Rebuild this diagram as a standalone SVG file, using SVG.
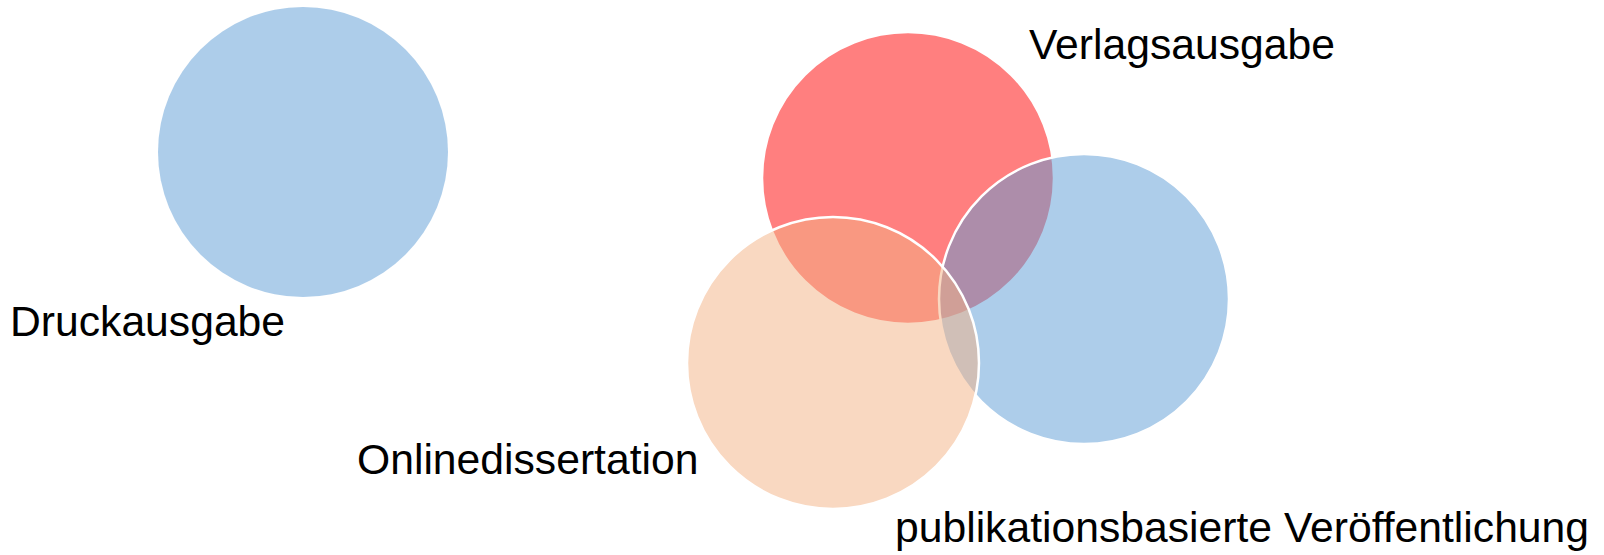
<svg xmlns="http://www.w3.org/2000/svg" width="1604" height="555" viewBox="0 0 1604 555">
<style>
.c{stroke:#FFFFFF;stroke-width:2.5;fill-opacity:0.5}
.blue{fill:#5B9BD5}
.red{fill:#FF0000}
.peach{fill:#F4B183}
.solo{stroke:none}
.t{font-family:"Liberation Sans",Arial,sans-serif;font-size:42.67px;fill:#000000}
</style>
<rect width="1604" height="555" fill="#FFFFFF"/>
<g id="connectors"></g>
<g id="druckausgabe">
<circle class="c blue solo" cx="303" cy="152" r="145"/>
<text class="t" x="10" y="336">Druckausgabe</text>
</g>
<g id="verlagsausgabe">
<circle class="c red" cx="908" cy="178" r="146"/>
<text class="t" x="1029" y="59">Verlagsausgabe</text>
</g>
<g id="publikationsbasiert">
<circle class="c blue" cx="1084" cy="299" r="145"/>
<text class="t" x="895" y="542">publikationsbasierte Veröffentlichung</text>
</g>
<g id="onlinedissertation">
<circle class="c peach" cx="833" cy="363" r="146"/>
<text class="t" x="357" y="474">Onlinedissertation</text>
</g>
</svg>
